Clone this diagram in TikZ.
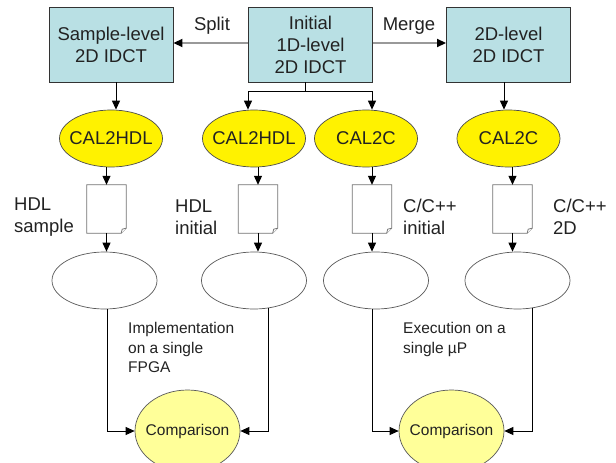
\documentclass[tikz,border=0pt]{standalone}
\usepackage{fontspec}
\setmainfont{Liberation Sans}
\usetikzlibrary{arrows.meta,shapes.geometric,calc}
\definecolor{boxfill}{HTML}{B9E0E4}
\definecolor{txt}{HTML}{222222}
\definecolor{cmpfill}{HTML}{FFFF99}
\begin{document}
\begin{tikzpicture}[x=1pt,y=-1pt,
  every node/.style={text=txt, font=\fontsize{18.5}{22}\selectfont},
  box/.style={draw=black!80, fill=boxfill, line width=0.9pt, minimum width=124pt, minimum height=75pt, align=center, inner sep=0pt},
  yel/.style={ellipse, draw=black!70, fill=yellow, line width=0.7pt, minimum width=103pt, minimum height=57pt, inner sep=0pt},
  wht/.style={ellipse, draw=black!65, fill=white, line width=0.7pt, minimum width=105pt, minimum height=57pt, inner sep=0pt},
  cmp/.style={ellipse, draw=black!65, fill=cmpfill, line width=0.7pt, minimum width=105pt, minimum height=82pt, inner sep=0pt},
  doc/.style={minimum width=39pt, minimum height=48pt, inner sep=0pt},
  docline/.style={draw=black!55, line width=0.8pt, fill=white},
  lbl/.style={align=left, anchor=west, inner sep=0pt},
  small/.style={font=\fontsize{15.5}{19.5}\selectfont},
  arr/.style={-{Triangle[length=9pt,width=8pt]}, line width=1pt, draw=black},
  thinarr/.style={-{Triangle[length=9pt,width=8pt]}, line width=0.8pt, draw=black},
  garr/.style={-{Triangle[length=9pt,width=8pt,color=black]}, line width=1.8pt, draw=black!40},
]
\fill[white] (0,0) rectangle (616,463);
\useasboundingbox (0,0) rectangle (616,463);
\begin{scope}
\clip (0,0) rectangle (616,463);

% top boxes
\node[box] (b1) at (111,44.5) {Sample-level\\2D IDCT};
\node[box] (b2) at (310.5,44.5) {Initial\\1D-level\\2D IDCT};
\node[box] (b3) at (508.5,44.5) {2D-level\\2D IDCT};

\node[anchor=base, inner sep=0pt] (split) at (212,30.6) {Split};
\node[anchor=base, inner sep=0pt] (merge) at (409,30.6) {Merge};

\draw[garr] ($(b2.west)+(0,-1.5)$) coordinate (sp0) -- (sp0 -| b1.east);
\draw[garr] ($(b2.east)+(0,-1.5)$) coordinate (mg0) -- (mg0 -| b3.west);

% yellow ellipses
\node[yel, label={center:CAL2HDL}] (e1) at (111,138.5) {};
\node[yel, label={center:CAL2HDL}] (e2) at (254,138.5) {};
\node[yel, label={center:CAL2C}] (e3) at (366,138.5) {};
\node[yel, label={center:CAL2C}] (e4) at (508.5,138.5) {};

\coordinate (t1) at ($(b1.south)+(5,0)$);
\draw[arr] (t1) -- (t1 |- e1.north);
\coordinate (s2) at ($(b2.south)+(-5.5,0)$);
\coordinate (j2) at ($(s2)+(0,9)$);
\coordinate (t2) at ($(e2.north)+(-6,0)$);
\coordinate (t3) at ($(e3.north)+(6,0)$);
\draw[line width=1pt] (s2) -- (j2);
\draw[arr] (j2) -| (t2);
\draw[arr] (j2) -| (t3);
\coordinate (t4) at ($(b3.south)+(-4.5,0)$);
\draw[arr] (t4) -- (t4 |- e4.north);

% documents
\node[doc] (d1) at (106.5,209) {};
\node[doc] (d2) at (258,209) {};
\node[doc] (d3) at (372,209) {};
\node[doc] (d4) at (512.5,209) {};
\foreach \d in {d1,d2,d3,d4}{
  \draw[docline] (\d.north west) -- (\d.north east) -- ($(\d.south east)+(0,-5)$)
     -- ($(\d.south east)+(-5,0)$) -- (\d.south west) -- cycle;
  \draw[docline] ($(\d.south east)+(-5,0)$) -- ($(\d.south east)+(-4,-4)$) -- ($(\d.south east)+(0,-5)$);
}

\node[lbl] (l1) at (14,217.5) {HDL\\sample};
\node[lbl] (l2) at (175,217.5) {HDL\\initial};
\node[lbl] (l3) at (403,216.5) {C/C++\\initial};
\node[lbl] (l4) at (553,216.5) {C/C++\\2D};

% white ellipses
\node[wht] (w1) at (104.5,280.5) {};
\node[wht] (w2) at (254,280.5) {};
\node[wht] (w3) at (376,280.5) {};
\node[wht] (w4) at (517.5,280.5) {};

\draw[arr] (d1.north |- e1.south) -- (d1.north);
\draw[arr] (d2.north |- e2.south) -- (d2.north);
\draw[arr] (d3.north |- e3.south) -- (d3.north);
\draw[arr] (d4.north |- e4.south) -- (d4.north);
\draw[arr] (d1.south) -- (d1.south |- w1.north);
\draw[arr] (d2.south) -- (d2.south |- w2.north);
\draw[arr] (d3.south) -- (d3.south |- w3.north);
\draw[arr] (d4.south) -- (d4.south |- w4.north);

% comparison
\node[cmp, label={[small]center:Comparison}] (c1) at (187.5,431) {};
\node[cmp, label={[small]center:Comparison}] (c2) at (451.5,431) {};

\draw[thinarr] (w1.-85) |- (c1.west);
\draw[thinarr] (w2.-63) |- (c1.east);
\draw[thinarr] (w3.-98) |- (c2.west);
\draw[thinarr] (w4.-62) |- (c2.east);

\node[lbl, small] (impl) at (128,347.5) {Implementation\\on a single\\FPGA};
\node[lbl, small] (exec) at (403,339.4) {Execution on a\\single µP};
\end{scope}
\end{tikzpicture}
\end{document}
